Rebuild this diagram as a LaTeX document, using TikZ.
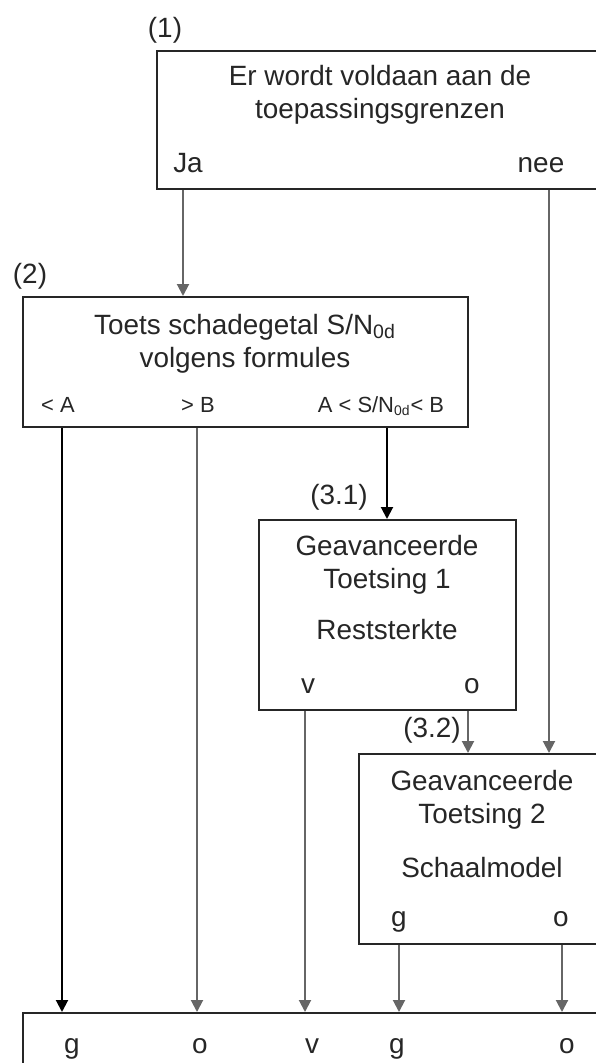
\documentclass[tikz,border=0pt]{standalone}
\usepackage{fontspec}
\setsansfont{Liberation Sans}
\usepackage{tikz}
\usetikzlibrary{positioning, arrows.meta, calc}

\begin{document}
\begin{tikzpicture}[
    % one unit = one pixel of the sheet
    x=0.5bp, y=-0.5bp,
    % Block Styles
    box/.style={rectangle, draw=black!85, line width=1bp, anchor=north west, inner sep=0pt},
    txt/.style={anchor=base, inner sep=0pt, text=black!85, align=center, font=\sffamily\fontsize{14}{16.5}\selectfont},
    small/.style={txt, font=\sffamily\fontsize{11}{13}\selectfont},
    % Line & Arrow Styles
    line/.style={draw, -{Triangle[width=6bp,length=6bp]}, line width=1bp, color=black!60},
    dark/.style={line, color=black}
]
    \useasboundingbox (0,0) rectangle (596,1063);

    % Columns of the connectors
    \coordinate (cja) at (183,0);
    \coordinate (cnee) at (549,0);
    \coordinate (clt) at (62,0);
    \coordinate (cgt) at (197,0);
    \coordinate (cmid) at (387,0);
    \coordinate (cv) at (305,0);
    \coordinate (co) at (468,0);
    \coordinate (cg) at (399,0);
    \coordinate (cs) at (562,0);

    % Boxes
    \node [box, minimum width=224bp, minimum height=69bp] (grenzen) at (156,50) {};
    \node [box, minimum width=222.5bp, minimum height=65bp] (toets) at (22,296) {};
    \node [box, minimum width=128.5bp, minimum height=95bp] (rest) at (258,519) {};
    \node [box, minimum width=124bp, minimum height=95bp] (schaal) at (358,753) {};
    \node [box, minimum width=320bp, minimum height=50bp] (oordeel) at (22,1012) {};

    % Step numbers
    \node [txt] (nr1) at (165,37) {(1)};
    \node [txt] (nr2) at (30,283) {(2)};
    \node [txt] (nr31) at (339,504) {(3.1)};
    \node [txt] (nr32) at (432,737) {(3.2)};

    % Texts in the boxes (base = last line)
    \node [txt] (grenzentxt) at (380,118) {Er wordt voldaan aan de\\toepassingsgrenzen};
    \node [txt] (ja) at (188,172) {Ja};
    \node [txt] (nee) at (541,172) {nee};

    \node [txt] (toetstxt) at (245,367) {Toets schadegetal S/N\textsubscript{0d}\\volgens formules};
    \node [small] (lt) at (58,412) {< A};
    \node [small] (gt) at (198,412) {> B};
    \node [small] (mid) at (381,412) {A < S/N\textsubscript{\scriptsize 0d}< B};

    \node [txt] (resttxt) at (387,588) {Geavanceerde\\Toetsing 1};
    \node [txt] (reststerkte) at (387,639) {Reststerkte};
    \node [txt] (v1) at (308,693) {v};
    \node [txt] (o1) at (472,693) {o};

    \node [txt] (schaaltxt) at (482,823) {Geavanceerde\\Toetsing 2};
    \node [txt] (schaalmodel) at (482,877) {Schaalmodel};
    \node [txt] (g2) at (399,926) {g};
    \node [txt] (o2) at (561,926) {o};

    \node [txt] (g3) at (72,1053) {g};
    \node [txt] (o3) at (200,1053) {o};
    \node [txt] (v3) at (312,1053) {v};
    \node [txt] (g4) at (397,1053) {g};
    \node [txt] (o4) at (567,1053) {o};

    % Connections / Flow
    \draw [line] (grenzen.south -| cja) -- (toets.north -| cja);
    \draw [line] (grenzen.south -| cnee) -- (schaal.north -| cnee);
    \draw [dark] (toets.south -| clt) -- (oordeel.north -| clt);
    \draw [line] (toets.south -| cgt) -- (oordeel.north -| cgt);
    \draw [dark] (toets.south -| cmid) -- (rest.north -| cmid);
    \draw [line] (rest.south -| cv) -- (oordeel.north -| cv);
    \draw [line] (rest.south -| co) -- (schaal.north -| co);
    \draw [line] (schaal.south -| cg) -- (oordeel.north -| cg);
    \draw [line] (schaal.south -| cs) -- (oordeel.north -| cs);

\end{tikzpicture}
\end{document}
